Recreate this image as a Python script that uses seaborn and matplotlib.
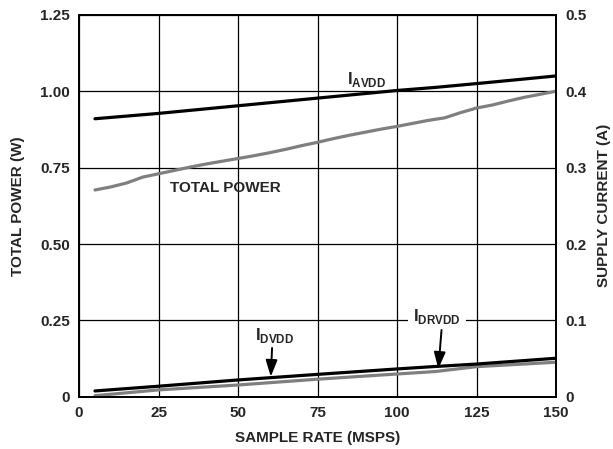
import matplotlib
matplotlib.use("Agg")
import matplotlib.pyplot as plt
import seaborn as sns

# Data
rate = [5, 10, 15, 20, 25, 30, 35, 40, 45, 50, 55, 60, 65, 70, 75,
        80, 85, 90, 95, 100, 105, 110, 115, 120, 125, 130, 135, 140, 145, 150]
total_power = [0.677, 0.687, 0.700, 0.719, 0.730, 0.741, 0.752, 0.762, 0.771, 0.780,
               0.789, 0.799, 0.810, 0.822, 0.833, 0.845, 0.856, 0.866, 0.876, 0.885,
               0.895, 0.905, 0.913, 0.930, 0.945, 0.955, 0.968, 0.980, 0.990, 1.000]

cur_rate = [5, 25, 50, 75, 100, 112, 125, 150]
i_avdd = [0.364, 0.371, 0.381, 0.391, 0.401, 0.405, 0.410, 0.420]
i_dvdd = [0.0078, 0.0140, 0.0222, 0.0295, 0.0366, 0.0398, 0.0430, 0.0506]
i_drvdd = [0.0016, 0.0092, 0.0156, 0.0232, 0.0300, 0.0332, 0.0396, 0.0454]

x_ticks = [0, 25, 50, 75, 100, 125, 150]
left_ticks = [0, 0.25, 0.50, 0.75, 1.00, 1.25]
left_labels = ["0", "0.25", "0.50", "0.75", "1.00", "1.25"]
right_ticks = [0, 0.1, 0.2, 0.3, 0.4, 0.5]
right_labels = ["0", "0.1", "0.2", "0.3", "0.4", "0.5"]

sns.set_style("white")
plt.rcParams['font.family'] = ['Liberation Sans', 'DejaVu Sans']
plt.rcParams['font.weight'] = 'bold'
plt.rcParams['mathtext.fontset'] = 'custom'
plt.rcParams['mathtext.rm'] = 'Liberation Sans:bold'
plt.rcParams['mathtext.bf'] = 'Liberation Sans:bold'

fig, ax = plt.subplots(figsize=(6.13, 4.49), dpi=100)
fig.subplots_adjust(left=0.129, right=0.907, bottom=0.116, top=0.967)
ax2 = ax.twinx()

gray = "#7f7f7f"
sns.lineplot(x=rate, y=total_power, ax=ax, color=gray, lw=2.3)
sns.lineplot(x=cur_rate, y=i_avdd, ax=ax2, color="black", lw=2.3)
sns.lineplot(x=cur_rate, y=i_drvdd, ax=ax2, color=gray, lw=2.3)
sns.lineplot(x=cur_rate, y=i_dvdd, ax=ax2, color="black", lw=2.3)

ax.set_xlim(0, 150)
ax.set_ylim(0, 1.25)
ax2.set_ylim(0, 0.5)
ax.set_xticks(x_ticks)
ax.set_xticklabels([str(t) for t in x_ticks])
ax.set_yticks(left_ticks)
ax.set_yticklabels(left_labels)
ax2.set_yticks(right_ticks)
ax2.set_yticklabels(right_labels)
ax.grid(True, color="black", lw=0.9)
ax.tick_params(length=0, labelsize=11, pad=6.5)
ax2.tick_params(length=0, labelsize=11, pad=6.5)
for a in (ax, ax2):
    for s in a.spines.values():
        s.set_linewidth(1.3)
        s.set_color("black")

ax.set_xlabel("SAMPLE RATE (MSPS)", fontsize=11, fontweight="bold", labelpad=8)
ax.set_ylabel("TOTAL POWER (W)", fontsize=11, fontweight="bold", labelpad=11)
ax2.set_ylabel("SUPPLY CURRENT (A)", fontsize=11, fontweight="bold", labelpad=8)

# labels
arrow = dict(arrowstyle="-|>,head_width=0.35,head_length=1.0", color="black",
             lw=1.4, shrinkA=0, shrinkB=0, mutation_scale=10)
ax.text(90.5, 1.04, r"I$_{\mathbf{AVDD}}$", fontsize=12, ha="center", va="center")
ax.text(46, 0.685, "TOTAL POWER", fontsize=11, ha="center", va="center")
ax.text(61.5, 0.2, r"I$_{\mathbf{DVDD}}$", fontsize=12, ha="center", va="center")
ax.annotate("", xy=(60.3, 0.066), xytext=(60.7, 0.16), arrowprops=arrow)
ax.text(112.5, 0.263, r"I$_{\mathbf{DRVDD}}$", fontsize=12, ha="center", va="center",
        bbox=dict(boxstyle="square,pad=0.3", fc="white", ec="none"))
ax.annotate("", xy=(113, 0.092), xytext=(114, 0.219), arrowprops=arrow)

plt.savefig("out.png", dpi=100)
